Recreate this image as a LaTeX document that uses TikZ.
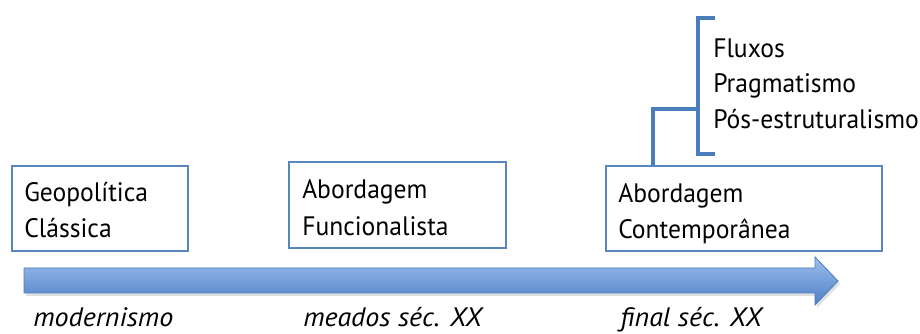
\documentclass[tikz,border=0pt]{standalone}
\usepackage{fontspec}
\setmainfont[FakeStretch=0.96]{PT Sans}
\newfontfamily\erafont[FakeStretch=1.05]{PT Sans}
\definecolor{boxblue}{HTML}{5A86C0}
\definecolor{brblue}{HTML}{4A7EBB}
\definecolor{arrtop}{HTML}{9DBEEC}
\definecolor{arrbot}{HTML}{4E7FC6}
\tikzset{
  box/.style={draw=boxblue, line width=1.3pt, anchor=north west, inner sep=0pt},
  lbl/.style={anchor=base west, inner sep=0pt, font=\fontsize{20}{24}\selectfont},
  era/.style={anchor=base west, inner sep=0pt, font=\erafont\fontsize{20}{24}\selectfont\itshape},
  brk/.style={draw=brblue, line width=2.4pt}
}
\begin{document}
\begin{tikzpicture}[x=0.75pt,y=-0.75pt]
\useasboundingbox (0,0) rectangle (920,334);
% boxes
\node[box, minimum width=176*0.75pt, minimum height=85*0.75pt] (b1) at (11,165) {};
\node[box, minimum width=217*0.75pt, minimum height=86*0.75pt] (b2) at (288,161) {};
\node[box, minimum width=276*0.75pt, minimum height=85*0.75pt] (b3) at (605,165) {};
\node[lbl] (g1) at (24,202) {Geopolítica};
\node[lbl] (g2) at (24,238) {Clássica};
\node[lbl] (f1) at (302,199) {Abordagem};
\node[lbl] (f2) at (302,236) {Funcionalista};
\node[lbl] (c1) at (618,203) {Abordagem};
\node[lbl] (c2) at (618,239) {Contemporânea};
\node[lbl] (p1) at (713,58) {Fluxos};
\node[lbl] (p2) at (713,93) {Pragmatismo};
\node[lbl] (p3) at (713,129) {Pós-estruturalismo};
% bracket
\coordinate (bt) at (715,18);
\coordinate (bb) at (715,154);
\coordinate (bm) at (698,109);
\draw[brk] (bt) -- (698,18) -- (698,154) -- (bb);
\draw[brk] (b3.north west -| 653,0) -- (653,109) -- (bm);
% arrow shadow
\fill[black!12] (26,296) -- (817,296) -- (817,308) -- (840,284) -- (817,260) -- (817,271) -- (26,271) -- cycle;
% arrow
\shadedraw[top color=arrtop, bottom color=arrbot, draw=brblue, line width=0.6pt]
  (24,268) -- (815,268) -- (815,257) -- (838,281) -- (815,305) -- (815,293) -- (24,293) -- cycle;
% eras
\node[era] (e1) at (33,326) {modernismo};
\node[era] (e2) at (303,326) {meados séc. XX};
\node[era] (e3) at (620,326) {final séc. XX};
\end{tikzpicture}
\end{document}
